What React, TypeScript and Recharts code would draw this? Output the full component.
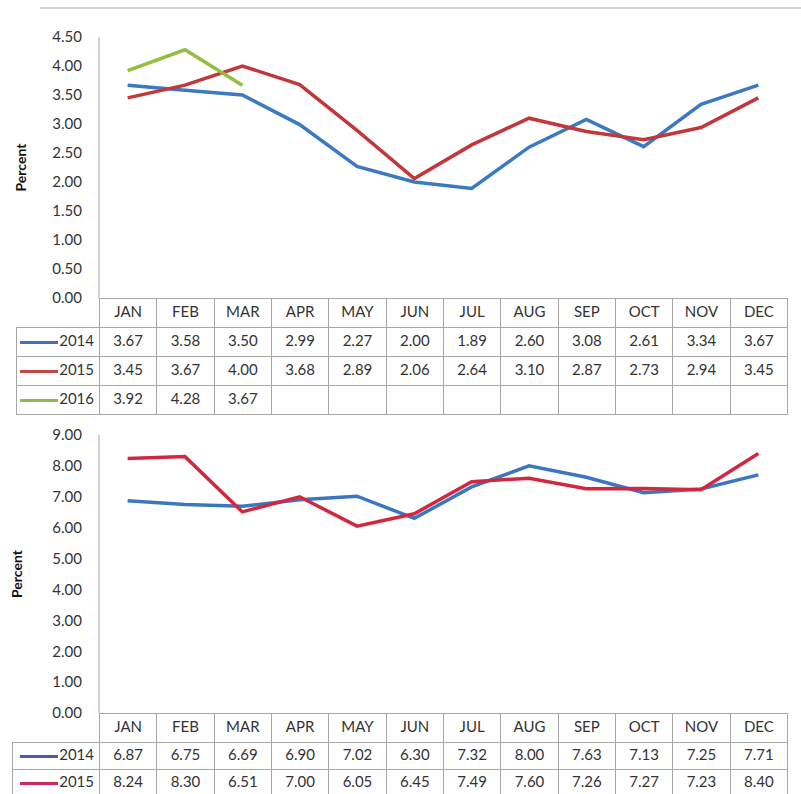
import { LineChart, Line, XAxis, YAxis } from "recharts";

const MONTHS = ["JAN", "FEB", "MAR", "APR", "MAY", "JUN", "JUL", "AUG", "SEP", "OCT", "NOV", "DEC"];

// upper panel
const TOP_2014 = [3.67, 3.58, 3.5, 2.99, 2.27, 2.0, 1.89, 2.6, 3.08, 2.61, 3.34, 3.67];
const TOP_2015 = [3.45, 3.67, 4.0, 3.68, 2.89, 2.06, 2.64, 3.1, 2.87, 2.73, 2.94, 3.45];
const TOP_2016 = [3.92, 4.28, 3.67, null, null, null, null, null, null, null, null, null];
const TOP_TICKS = [0, 0.5, 1, 1.5, 2, 2.5, 3, 3.5, 4, 4.5];

// lower panel
const LOW_2014 = [6.87, 6.75, 6.69, 6.9, 7.02, 6.3, 7.32, 8.0, 7.63, 7.13, 7.25, 7.71];
const LOW_2015 = [8.24, 8.3, 6.51, 7.0, 6.05, 6.45, 7.49, 7.6, 7.26, 7.27, 7.23, 8.4];
const LOW_TICKS = [0, 1, 2, 3, 4, 5, 6, 7, 8, 9];

type Series = { name: string; values: (number | null)[]; color: string; key: string };

const FONT = "Lato, 'Open Sans', sans-serif";
const PLOT_LEFT = 99;
const PLOT_RIGHT = 787;
const COL_W = (PLOT_RIGHT - PLOT_LEFT) / 12;

function Panel({ top, plotTop, plotBottom, ticks, series, legendLeft, rowH }: {
  top: number; plotTop: number; plotBottom: number; ticks: number[]; series: Series[];
  legendLeft: number; rowH: number[];
}) {
  const data = MONTHS.map((m, i) => {
    const row: any = { month: m };
    series.forEach((s) => (row[s.name] = s.values[i]));
    return row;
  });
  const h = plotBottom - top + 14;
  const cell = (r: number) => ({
    border: "1px solid #a6a6a6", height: rowH[r] - 1, padding: "0 0 3px 0", boxSizing: "border-box" as const,
    textAlign: "center" as const, lineHeight: "16px",
  });

  return (
    <>
      <div style={{ position: "absolute", left: 0, top }}>
        <LineChart width={801} height={h} data={data}
          margin={{ top: plotTop - top, left: PLOT_LEFT - 60, right: 801 - PLOT_RIGHT, bottom: 14 }}>
          <XAxis dataKey="month" hide padding={{ left: COL_W / 2, right: COL_W / 2 }} />
          <YAxis domain={[0, ticks[ticks.length - 1]]} ticks={ticks} width={60} interval={0}
            tickFormatter={(v: number) => v.toFixed(2)} tickLine={false} tickSize={6} tickMargin={11}
            axisLine={{ stroke: "#a6a6a6" }}
            tick={{ fill: "#333", fontSize: 15, fontFamily: FONT }}
            label={{
              content: ({ viewBox }: any) => {
                const cy = viewBox.y + viewBox.height / 2;
                return (
                  <text x={0} y={0} transform={`translate(${legendLeft + 6}, ${cy}) rotate(-90)`}
                    textAnchor="middle" dominantBaseline="middle"
                    style={{ fontWeight: 700, fontSize: 14, fontFamily: FONT, fill: "#111" }}>
                    Percent
                  </text>
                );
              },
            }} />
          {series.map((s) => (
            <Line key={s.name} dataKey={s.name} stroke={s.color} strokeWidth={3.5} dot={false}
              type="linear" isAnimationActive={false} connectNulls={false} />
          ))}
        </LineChart>
      </div>
      <table style={{
        position: "absolute", left: legendLeft, top: plotBottom, borderCollapse: "collapse",
        tableLayout: "fixed", width: PLOT_RIGHT - legendLeft + 1, fontFamily: FONT, fontSize: 15, color: "#333",
      }}>
        <colgroup>
          <col style={{ width: PLOT_LEFT - legendLeft }} />
          {MONTHS.map((m) => <col key={m} style={{ width: COL_W }} />)}
        </colgroup>
        <tbody>
          <tr>
            <td style={{ border: "none", padding: 0, height: rowH[0] - 1 }} />
            {MONTHS.map((m) => <td key={m} style={cell(0)}>{m}</td>)}
          </tr>
          {series.map((s, r) => (
            <tr key={s.name}>
              <td style={{ ...cell(r + 1), textAlign: "right", paddingRight: 5, whiteSpace: "nowrap" }}>
                <span style={{ display: "inline-block", width: 38, height: 3, background: s.key, verticalAlign: "middle", marginRight: 1 }} />
                {s.name}
              </td>
              {s.values.map((v, i) => <td key={i} style={cell(r + 1)}>{v == null ? "" : v.toFixed(2)}</td>)}
            </tr>
          ))}
        </tbody>
      </table>
    </>
  );
}

export default function App() {
  return (
    <div style={{ position: "absolute", left: 0, top: 0, width: 801, height: 794, overflow: "hidden", background: "#fff" }}>
      <div style={{ position: "absolute", left: 40, top: 7, width: 761, height: 2, background: "#d4d4d4" }} />
      <Panel top={0} plotTop={37} plotBottom={298} ticks={TOP_TICKS} legendLeft={16} rowH={[29, 30, 30, 30]}
        series={[
          { name: "2014", values: TOP_2014, color: "#3b79c1", key: "#4470b8" },
          { name: "2015", values: TOP_2015, color: "#c2373b", key: "#bf4a45" },
          { name: "2016", values: TOP_2016, color: "#92bf42", key: "#93b84f" },
        ]} />
      <Panel top={420} plotTop={435} plotBottom={713} ticks={LOW_TICKS} legendLeft={12} rowH={[29, 28, 28]}
        series={[
          { name: "2014", values: LOW_2014, color: "#3b76c0", key: "#4f58ac" },
          { name: "2015", values: LOW_2015, color: "#d0293f", key: "#cc2a58" },
        ]} />
    </div>
  );
}
